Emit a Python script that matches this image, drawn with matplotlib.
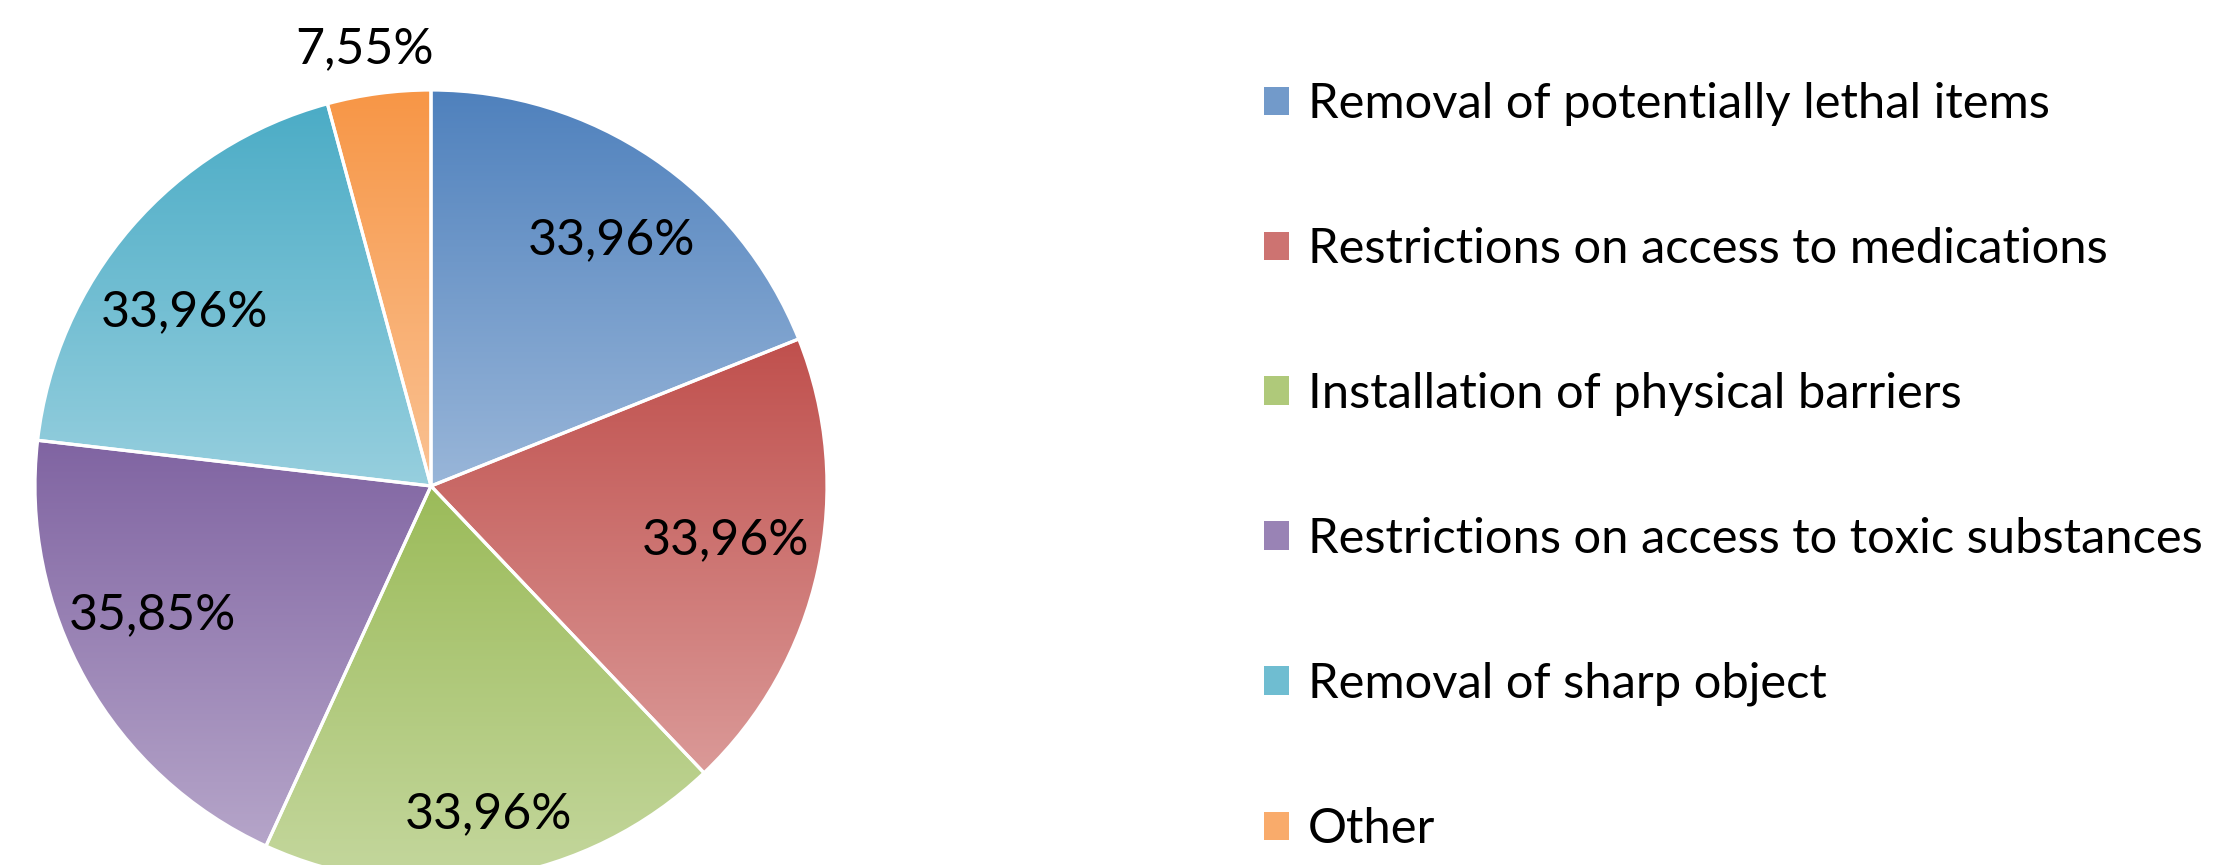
import numpy as np
import matplotlib
matplotlib.use("Agg")
import matplotlib.pyplot as plt
from matplotlib.colors import to_rgb
from matplotlib.patches import Patch

# data
categories = ["Removal of potentially lethal items",
              "Restrictions on access to medications",
              "Installation of physical barriers",
              "Restrictions on access to toxic substances",
              "Removal of sharp object",
              "Other"]
values = [33.96, 33.96, 33.96, 35.85, 33.96, 7.55]

colors = ["#4F81BD", "#C0504D", "#9BBB59", "#8064A2", "#4BACC6", "#F79646"]
# label placement (radius factor, angle shift in degrees)
label_r = [0.77, 0.755, 0.84, 0.775, 0.763, 1.116]
label_shift = [-2.3, 1.9, 0.4, -4.4, 5.5, 1.0]

plt.rcParams['font.family'] = ['Lato', 'DejaVu Sans']
W, H = 2216, 865
fig = plt.figure(figsize=(W / 100, H / 100), dpi=100)

cx, cy, R = 431, 486, 396
ax = fig.add_axes([(cx - R) / W, (H - cy - R) / H, 2 * R / W, 2 * R / H])

wedges, _ = ax.pie(values, startangle=90, counterclock=False,
                   wedgeprops=dict(facecolor='none', edgecolor='white', linewidth=2.3))


def lighten(c, f):
    c = np.array(to_rgb(c))
    return c + (1 - c) * f


for w, c in zip(wedges, colors):
    v = w.get_path().vertices
    x0, x1 = v[:, 0].min(), v[:, 0].max()
    y0, y1 = v[:, 1].min(), v[:, 1].max()
    t = np.linspace(0, 1, 256)[:, None, None]
    grad = lighten(c, 0)[None, None, :] * (1 - t) + lighten(c, 0.42)[None, None, :] * t
    im = ax.imshow(grad, extent=(x0, x1, y0, y1), origin='upper', aspect='auto',
                   interpolation='bilinear', zorder=1)
    im.set_clip_path(w)
    w.set_zorder(3)

for w, v, r, s in zip(wedges, values, label_r, label_shift):
    ang = np.deg2rad((w.theta1 + w.theta2) / 2 + s)
    txt = f"{v:.2f}%".replace('.', ',')
    ax.text(r * np.cos(ang), r * np.sin(ang), txt, ha='center', va='center',
            fontsize=36, color='black', zorder=5)

ax.set_xlim(-1, 1)
ax.set_ylim(-1, 1)
ax.set_aspect('equal')
ax.axis('off')

handles = [Patch(facecolor=lighten(c, 0.2), edgecolor='none') for c in colors]
fig.legend(handles, categories, loc='upper left', bbox_to_anchor=(1264 / W, 1 - 82 / H),
           frameon=False, fontsize=35.2, handlelength=0.51, handleheight=0.51,
           handletextpad=0.38, labelspacing=2.065, borderpad=0, borderaxespad=0)

fig.savefig("out.png", dpi=100)
